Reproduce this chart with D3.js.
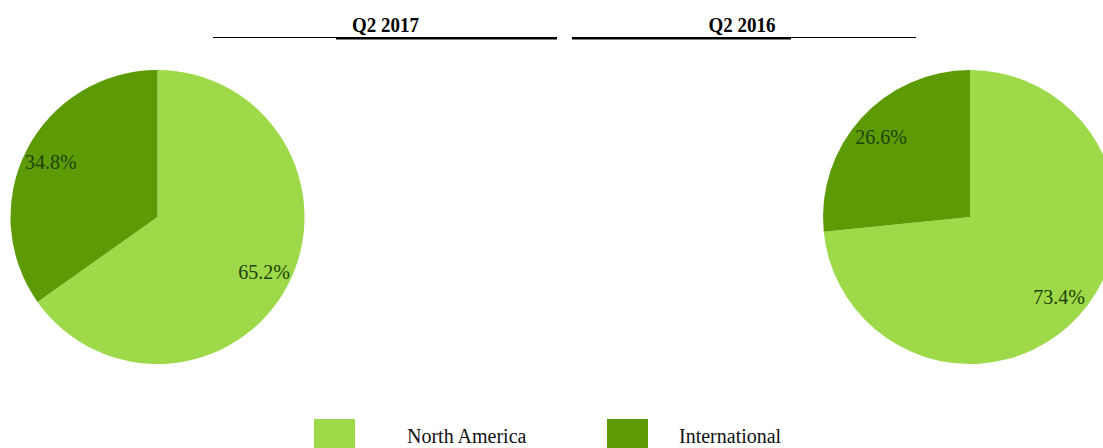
<!DOCTYPE html>
<html>
<head>
<meta charset="utf-8">
<script src="https://cdn.jsdelivr.net/npm/d3@7"></script>
<style>
  html, body { margin: 0; padding: 0; background: #fff; }
  svg { display: block; }
</style>
</head>
<body>
<div id="chart"></div>
<script>
// data
const categories = ['North America', 'International'];
const periods = ['Q2 2017', 'Q2 2016'];
const sharesQ22017 = [65.2, 34.8];
const sharesQ22016 = [73.4, 26.6];

const width = 1103;
const height = 448;

const color = d3.scaleOrdinal()
  .domain(categories)
  .range(['#9dd949', '#5c9b06']);

const svg = d3.select('#chart')
  .append('svg')
    .attr('width', width)
    .attr('height', height);

//
// Pies
//
const radius = 147;
const labelRadius = 120;

const pie = d3.pie()
  .sort(null)
  .value(d => d.value);

const arc = d3.arc()
  .innerRadius(0)
  .outerRadius(radius);

const labelArc = d3.arc()
  .innerRadius(labelRadius)
  .outerRadius(labelRadius);

const pies = [
  { period: periods[0], values: sharesQ22017, cx: 157.5, cy: 217 },
  { period: periods[1], values: sharesQ22016, cx: 970, cy: 217 }
];

pies.forEach(p => {
  const data = categories.map((c, i) => ({ category: c, value: p.values[i] }));

  const g = svg.append('g')
    .attr('class', 'pie')
    .attr('transform', `translate(${p.cx}, ${p.cy})`);

  g.selectAll('path')
    .data(pie(data))
    .enter().append('path')
      .attr('d', arc)
      .style('fill', d => color(d.data.category));

  g.selectAll('text')
    .data(pie(data))
    .enter().append('text')
      .attr('transform', d => `translate(${labelArc.centroid(d)})`)
      .attr('dy', '0.35em')
      .attr('text-anchor', 'middle')
      .style('font-family', '"Liberation Serif", "DejaVu Serif", serif')
      .style('font-size', '20px')
      .style('fill', '#1f4208')
      .text(d => `${d.data.value.toFixed(1)}%`);
});

//
// Titles with rules underneath
//
const titles = [
  { text: periods[0], x: 385.5, thin: [213, 557], thick: [336, 557] },
  { text: periods[1], x: 742, thin: [572, 916], thick: [572, 791] }
];

titles.forEach(t => {
  svg.append('line')
    .attr('x1', t.thin[0]).attr('x2', t.thin[1])
    .attr('y1', 37.5).attr('y2', 37.5)
    .style('stroke', '#000')
    .style('stroke-width', 1.2);

  svg.append('line')
    .attr('x1', t.thick[0]).attr('x2', t.thick[1])
    .attr('y1', 38.5).attr('y2', 38.5)
    .style('stroke', '#000')
    .style('stroke-width', 2);

  // slightly condensed look of the original heading
  svg.append('text')
    .attr('transform', `translate(${t.x}, ${32}) scale(1, 1.15)`)
    .attr('text-anchor', 'middle')
    .style('font-family', '"Liberation Serif", "DejaVu Serif", serif')
    .style('font-weight', 700)
    .style('font-size', '19px')
    .text(t.text);
});

//
// Legend
//
const legendItems = [
  { category: categories[0], sx: 314, tx: 407 },
  { category: categories[1], sx: 607, tx: 679 }
];

const legend = svg.append('g').attr('class', 'legend');

legend.selectAll('rect')
  .data(legendItems)
  .enter().append('rect')
    .attr('x', d => d.sx)
    .attr('y', 419)
    .attr('width', 41)
    .attr('height', 29)
    .style('fill', d => color(d.category));

legend.selectAll('text')
  .data(legendItems)
  .enter().append('text')
    .attr('x', d => d.tx)
    .attr('y', 443)
    .style('font-family', '"Liberation Serif", "DejaVu Serif", serif')
    .style('font-size', '20px')
    .style('fill', '#111')
    .text(d => d.category);
</script>
</body>
</html>
